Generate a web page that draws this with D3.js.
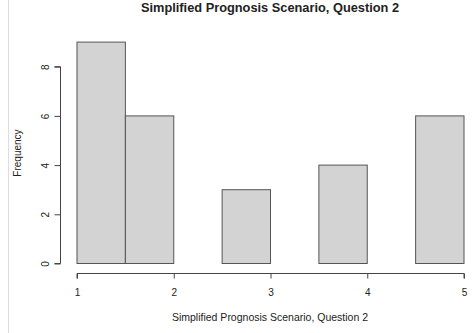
<!DOCTYPE html>
<html>
<head>
<meta charset="utf-8">
<script src="https://cdn.jsdelivr.net/npm/d3@7"></script>
<style>
  body { margin: 0; background: #fff; }
  text { font-family: "Liberation Sans", Arial, sans-serif; fill: #222; }
</style>
</head>
<body>
<script>
var w = 474;
var h = 333;

// histogram bins (R hist, breaks of 0.5)
var binStart = [1, 1.5, 2, 2.5, 3, 3.5, 4, 4.5];
var binEnd = [1.5, 2, 2.5, 3, 3.5, 4, 4.5, 5];
var counts = [9, 6, 0, 3, 0, 4, 0, 6];
var xTicks = [1, 2, 3, 4, 5];
var yTicks = [0, 2, 4, 6, 8];

var title = "Simplified Prognosis Scenario, Question 2";
var xLabel = "Simplified Prognosis Scenario, Question 2";
var yLabel = "Frequency";

var x = d3.scaleLinear().domain([1, 5]).range([77, 464]);
var y = d3.scaleLinear().domain([0, 8]).range([263.5, 66.7]);

var svg = d3.select("body")
  .append("svg")
  .attr("width", w)
  .attr("height", h);

// thin border on the left of the screenshot
svg.append("line")
  .attr("x1", 8.5).attr("x2", 8.5)
  .attr("y1", 0).attr("y2", h)
  .style("stroke", "#ddd");

svg.selectAll("rect.bar")
  .data(counts)
  .enter()
  .append("rect")
  .attr("class", "bar")
  .attr("x", function(d, i) { return x(binStart[i]); })
  .attr("width", function(d, i) { return x(binEnd[i]) - x(binStart[i]); })
  .attr("y", function(d) { return y(d); })
  .attr("height", function(d) { return y(0) - y(d); })
  .style("fill", "#d3d3d3")
  .style("stroke", "#555")
  .style("stroke-width", 1);

// x axis
var xAxis = svg.append("g")
  .attr("transform", "translate(0," + 273.5 + ")")
  .call(d3.axisBottom(x).tickValues(xTicks).tickSize(5).tickPadding(10).tickFormat(d3.format("d")));

// y axis
var yAxis = svg.append("g")
  .attr("transform", "translate(" + 60.5 + ",0)")
  .call(d3.axisLeft(y).tickValues(yTicks).tickSize(6).tickFormat(d3.format("d")));

xAxis.select(".domain").attr("d", "M" + x(1) + ",5V0H" + x(5) + "V5");
yAxis.select(".domain").attr("d", "M-6," + y(0) + "H0V" + y(8) + "H-6");

svg.selectAll(".domain, .tick line").style("stroke", "#444");
svg.selectAll(".tick text").style("font-size", "10px").style("fill", "#222");

yAxis.selectAll(".tick text")
  .attr("text-anchor", "middle")
  .attr("x", 0)
  .attr("dy", 0)
  .attr("transform", function() { return "translate(-15,0) rotate(-90)"; })
  .attr("y", 0)
  .attr("dominant-baseline", "central");

svg.append("text")
  .attr("x", 270)
  .attr("y", 12)
  .attr("text-anchor", "middle")
  .style("font-weight", "bold")
  .style("font-size", "12.8px")
  .text(title);

svg.append("text")
  .attr("x", 270)
  .attr("y", 321)
  .attr("text-anchor", "middle")
  .style("font-size", "10.5px")
  .text(xLabel);

svg.append("text")
  .attr("transform", "translate(21,153) rotate(-90)")
  .attr("text-anchor", "middle")
  .style("font-size", "10px")
  .text(yLabel);
</script>
</body>
</html>
